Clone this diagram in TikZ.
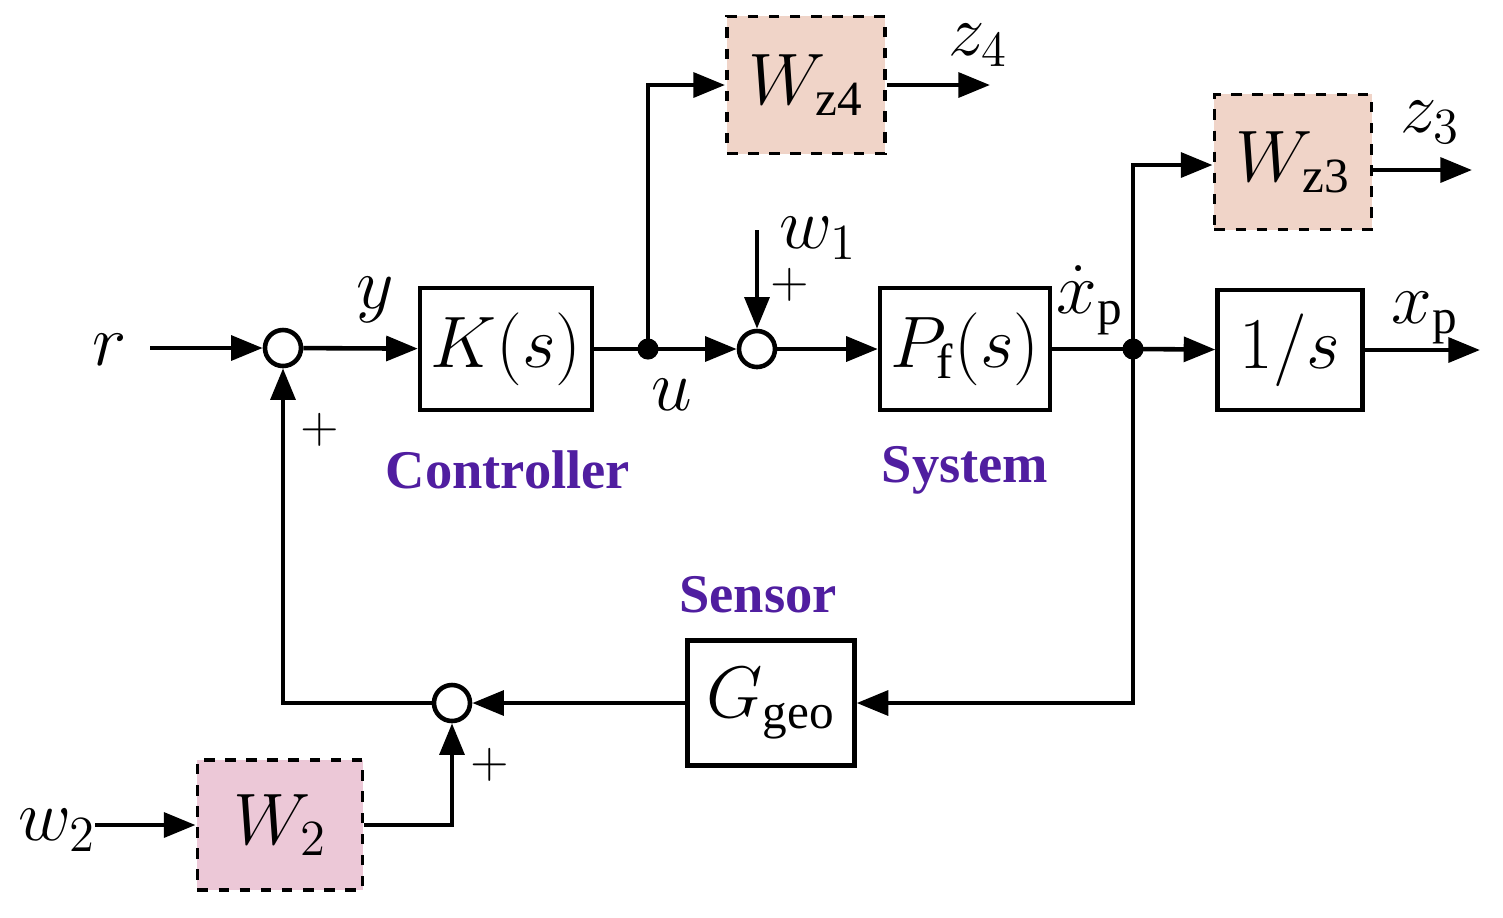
\documentclass[tikz,border=0pt]{standalone}
\usepackage{fontspec}
\setmainfont{Liberation Serif}
\usetikzlibrary{arrows.meta}
\begin{document}
\begin{tikzpicture}[x=0.01cm,y=-0.01cm,
  line width=1.3pt, >={Triangle[length=9pt,width=7pt]},
  blk/.style={draw, line width=1.2pt, minimum width=#1, inner sep=0pt, font=\fontsize{20}{24}\selectfont},
  wt/.style={draw, dashed, line width=1.1pt, minimum width=#1, inner sep=0pt, font=\fontsize{20}{24}\selectfont},
  sum/.style={draw, circle, line width=1.3pt, minimum size=0.36cm, inner sep=0pt},
  lab/.style={font=\fontsize{20}{24}\selectfont},
  pm/.style={font=\fontsize{14}{16}\selectfont},
  caplab/.style={font=\bfseries\fontsize{15.5}{18}\selectfont, text=purpleblue}]
\definecolor{purpleblue}{RGB}{80,30,160}
\definecolor{wpink}{RGB}{240,212,200}
\definecolor{wpink2}{RGB}{236,200,215}
\useasboundingbox (0,0) rectangle (1503,917);
\node[sum] (s1) at (283,348) {};
\node[blk=1.72cm, minimum height=1.22cm] (K) at (506,349) {$K(s)$};
\coordinate (d1) at (648,349);
\node[wt=1.58cm, minimum height=1.37cm, fill=wpink] (Wz4) at (806,85) {$W_{\mathrm{z4}}$};
\node[sum] (s2) at (757,349) {};
\node[blk=1.7cm, minimum height=1.22cm] (P) at (965,349) {$P_{\mathrm{f}}(s)$};
\coordinate (d2) at (1133,349);
\node[blk=1.45cm, minimum height=1.2cm] (I) at (1290,350) {$1/s$};
\node[wt=1.57cm, minimum height=1.35cm, fill=wpink] (Wz3) at (1293,162) {$W_{\mathrm{z3}}$};
\node[blk=1.67cm, minimum height=1.25cm] (G) at (771,703) {$G_{\mathrm{geo}}$};
\node[sum] (s3) at (452,703) {};
\node[wt=1.65cm, minimum height=1.3cm, fill=wpink2] (W2) at (280,825) {$W_2$};
\coordinate (r) at (150,348);
\coordinate (w1) at (757,230);
\coordinate (w2) at (95,825);
\coordinate (z4) at (990,85);
\coordinate (z3) at (1472,170);
\coordinate (xp) at (1480,350);
\coordinate (c4) at (648,85);
\coordinate (c3) at (1133,165);
\coordinate (cg) at (1133,703);
\coordinate (cf) at (283,703);
\coordinate (cw) at (452,825);

\draw[->] (r) -- (s1);
\draw[->] (s1) -- (K);
\draw (K) -- (d1);
\draw[->] (d1) -- (s2);
\draw[->] (d1) -- (c4) -- (Wz4);
\draw[->] (Wz4) -- (z4);
\draw[->] (w1) -- (s2);
\draw[->] (s2) -- (P);
\draw (P) -- (d2);
\draw[->] (d2) -- (I);
\draw[->] (I) -- (xp);
\draw[->] (d2) -- (c3) -- (Wz3.west |- c3);
\draw[->] (Wz3.east |- z3) -- (z3);
\draw[->] (d2) -- (cg) -- (G);
\draw[->] (G) -- (s3);
\draw[->] (s3) -- (cf) -- (s1);
\draw[->] (w2) -- (W2);
\draw[->] (W2) -- (cw) -- (s3);
\fill (d1) circle (3pt);
\fill (d2) circle (3pt);

\node[lab] at (110,350) {$r$};
\node[lab] at (375,300) {$y$};
\node[lab] at (672,395) {$u$};
\node[lab] at (978,45) {$z_4$};
\node[lab] at (818,238) {$w_1$};
\node[pm] at (790,285) {$+$};
\node[lab] at (1090,300) {$\dot{x}_{\mathrm{p}}$};
\node[lab] at (1425,318) {$x_{\mathrm{p}}$};
\node[lab] at (1430,122) {$z_3$};
\node[pm] at (320,430) {$+$};
\node[pm] at (490,765) {$+$};
\node[lab] at (57,830) {$w_2$};
\node[caplab] at (508,470) {Controller};
\node[caplab] at (965,470) {System};
\node[caplab] at (758,595) {Sensor};
\end{tikzpicture}
\end{document}
